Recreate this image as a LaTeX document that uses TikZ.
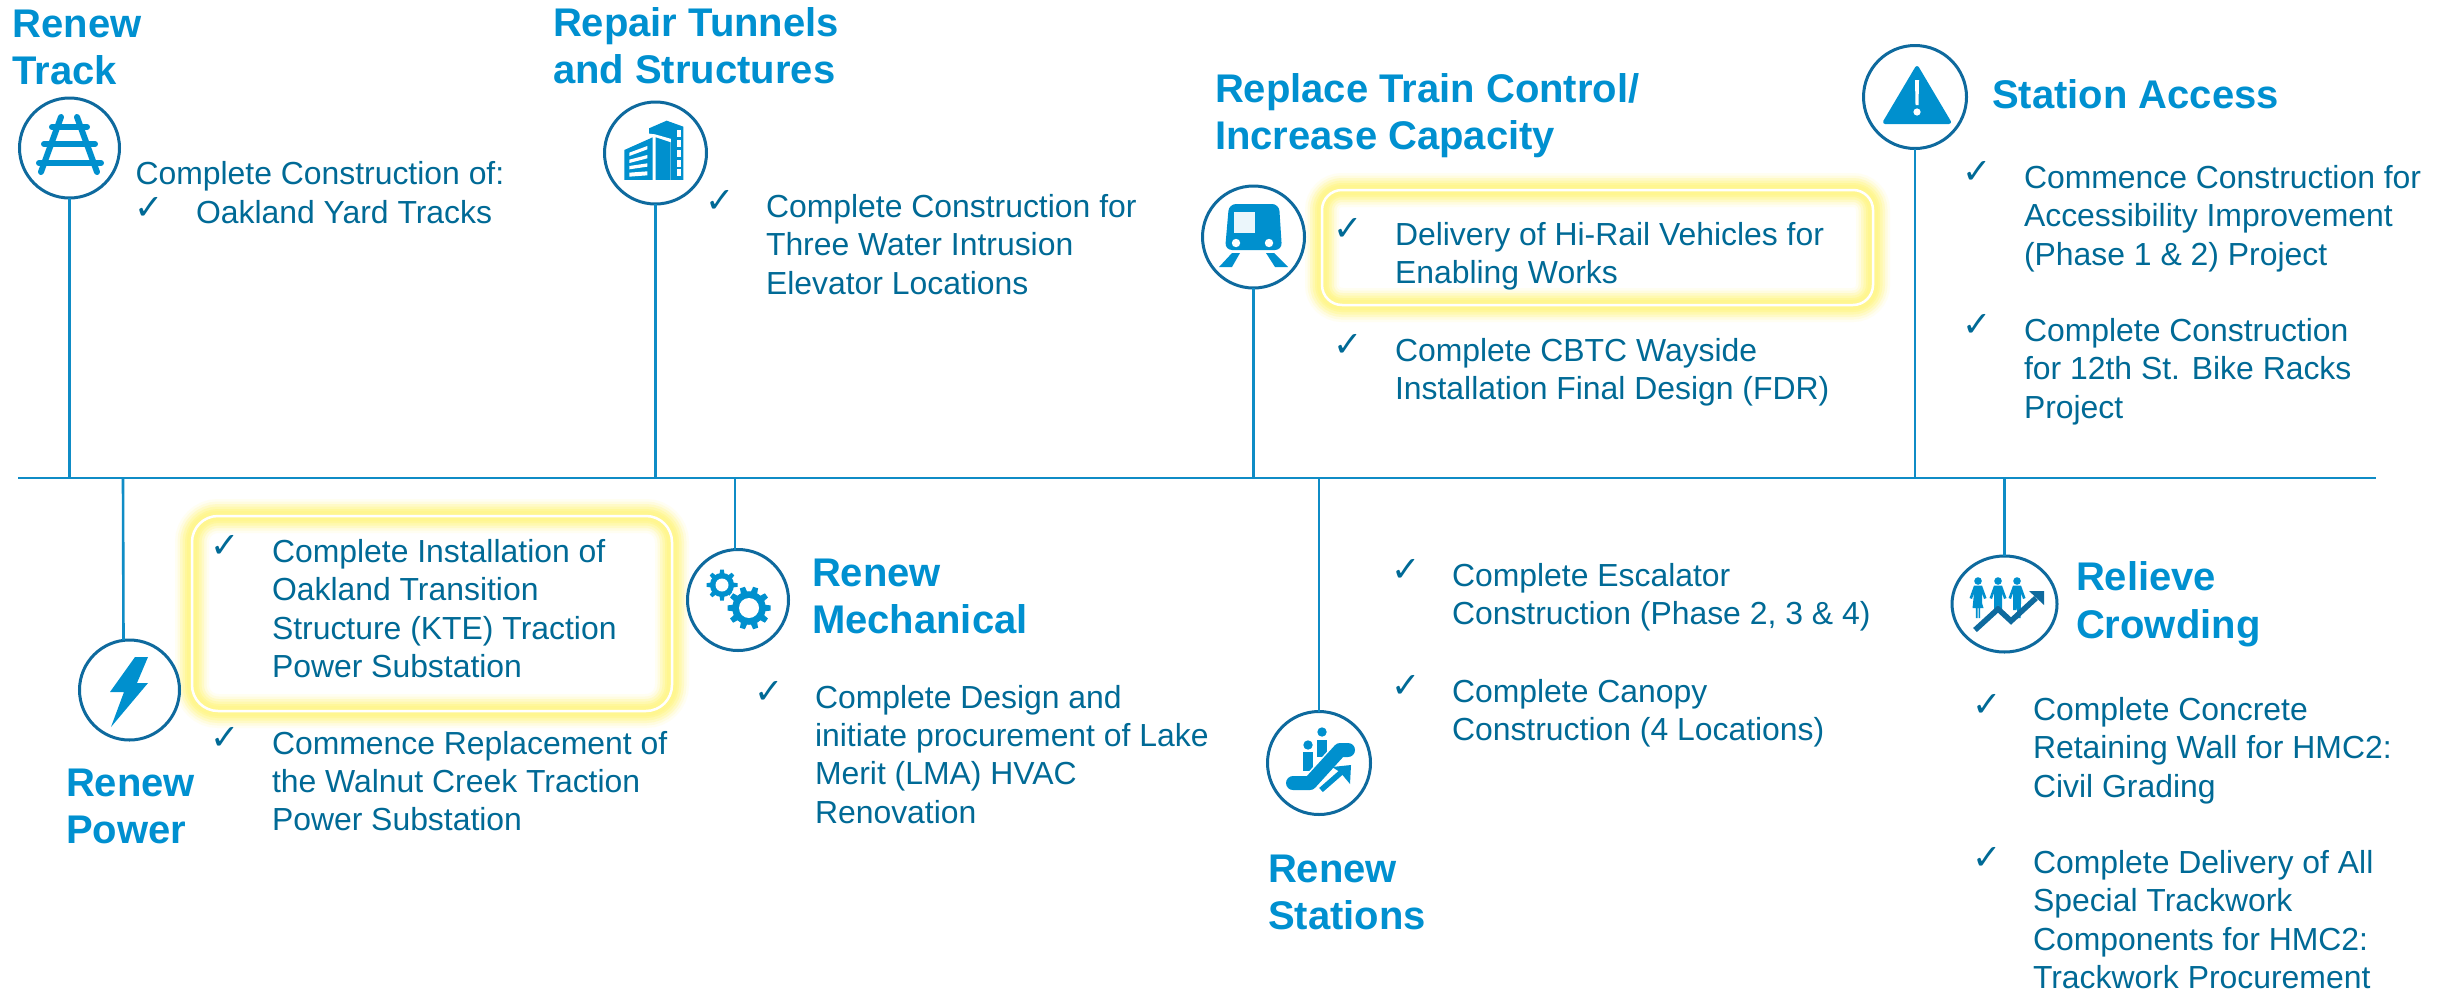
\documentclass[tikz,border=0pt]{standalone}
\usepackage{fontspec}
\usetikzlibrary{shapes.geometric}
\setmainfont{Liberation Sans}
\newfontfamily\checkfont{DejaVu Sans}
\definecolor{headblue}{HTML}{0090D0}
\definecolor{bodyteal}{HTML}{006A96}
\definecolor{lineblue}{HTML}{0F8CC6}
\definecolor{ringblue}{HTML}{0E6A9E}
\definecolor{iconblue}{HTML}{0090CE}
\definecolor{glowyellow}{HTML}{FFF690}
\newcommand\textlines[1]{\vtop{\halign{##\hfil\cr #1\crcr}}}
\newcommand\gearicon[5]{%
  \begin{scope}[shift={(#1,#2)}]
    \fill[iconblue] (0,0) circle (#3*0.78);
    \foreach \a in {1,...,#5}{
      \fill[iconblue,rotate=\a*360/#5] (#3*0.6,-#3*0.17) -- (#3,-#3*0.12) -- (#3,#3*0.12) -- (#3*0.6,#3*0.17) -- cycle;
    }
    \fill[white] (0,0) circle (#4);
  \end{scope}}
\newcommand\glowbox[5]{%
  \foreach \w/\p in {34/12,29/28,24/50,19/72,14/90,10/100}{
    \draw[line width=\w pt,color=glowyellow!\p!white,rounded corners=#5pt] (#1,#2) rectangle (#3,#4);
  }
  \draw[line width=2.5pt,white,rounded corners=#5pt] (#1,#2) rectangle (#3,#4);}
\newcommand\personicon[3]{%
  \begin{scope}[shift={(#1,#2)}]
    \fill[iconblue] (0,-10) circle (3.8);
    \fill[iconblue] (-4,-5.5) -- (4,-5.5) -- (8.5,7) -- (6,8) -- (4,2) -- #3;
  \end{scope}}
\tikzset{
  x=1pt,y=-1pt,
  heading/.style={anchor=base west,inner sep=0pt,outer sep=0pt,text=headblue,font=\fontsize{40}{47.5}\selectfont\bfseries},
  bodytext/.style={anchor=base west,inner sep=0pt,outer sep=0pt,text=bodyteal,font=\fontsize{31.9}{38.4}\selectfont},
  tick/.style={anchor=base west,inner sep=0pt,outer sep=0pt,text=bodyteal,font=\fontsize{35}{38}\checkfont},
  ring/.style={circle,draw=ringblue,line width=3pt,fill=white,inner sep=0pt,outer sep=0pt,minimum size=#1 pt},
  tubering/.style={ellipse,draw=ringblue,line width=3pt,fill=white,inner sep=0pt,outer sep=0pt,minimum width=105pt,minimum height=96pt},
  stem/.style={draw=lineblue,line width=2.6pt},
}
\begin{document}
\begin{tikzpicture}
\useasboundingbox (0,0) rectangle (2448,991);
\fill[white] (0,0) rectangle (2448,991);

% timeline
\coordinate (tlL) at (18,478);
\coordinate (tlR) at (2376,478);

% highlight glows
\glowbox{1322}{190}{1873}{305}{20}
\glowbox{192}{516}{672}{711}{26}

% circles
\node[ring=100] (cTrack) at (69.5,148) {};
\node[ring=102] (cTunnel) at (655.5,153) {};
\node[ring=102] (cTrain) at (1253.5,237) {};
\node[ring=103] (cAccess) at (1915,97) {};
\node[ring=100] (cPower) at (129.5,690) {};
\node[ring=101] (cMech) at (738,600) {};
\node[ring=103] (cStation) at (1319,763) {};
\node[tubering] (cCrowd) at (2004.5,604) {};

% connectors
\draw[stem] (tlL) -- (tlR);
\draw[stem] (cTrack.south) -- (cTrack.south |- tlL);
\draw[stem] (cTunnel.south) -- (cTunnel.south |- tlL);
\draw[stem] (cTrain.south) -- (cTrain.south |- tlL);
\draw[stem] (cAccess.south) -- (cAccess.south |- tlL);
\draw[stem] (cPower.north) ++(-6,0) -- (123,478);
\draw[stem] (cMech.north) ++(-3,0) -- (735,478);
\draw[stem] (cStation.north) -- (cStation.north |- tlL);
\draw[stem] (cCrowd.north) -- (cCrowd.north |- tlL);

% track icon
\begin{scope}[line width=6pt,line cap=round]
  \draw[iconblue] (61,117) -- (41,172);
  \draw[iconblue] (77,117) -- (97,172);
  \draw[iconblue] (52,127) -- (87,127);
  \draw[iconblue] (44,144) -- (95,144);
  \draw[iconblue] (39,163) -- (101,163);
\end{scope}

% building icon
\begin{scope}[shift={(600,100)},x=0.3333pt,y=-0.3333pt]
  \fill[iconblue] (147,100) -- (147,85) -- (200,62) -- (250,80) -- (250,240) -- (147,240) -- cycle;
  \fill[white] (140,100) -- (165,103) -- (218,118) -- (218,245) -- (140,245) -- cycle;
  \fill[iconblue] (73,150) -- (158,112) -- (158,240) -- (73,240) -- cycle;
  \fill[iconblue] (167,112) -- (212,127) -- (212,240) -- (167,240) -- cycle;
  \fill[iconblue] (212,110) -- (232,110) -- (232,240) -- (212,240) -- cycle;
  \foreach \a/\b in {90/112,120/142,150/172,180/202,208/228}{
    \fill[white] (232,\a) rectangle (243,\b);
  }
  \fill[white] (88,158) -- (142,138) -- (142,148) -- (88,168) -- cycle;
  \fill[white] (88,179) -- (142,165) -- (142,175) -- (88,189) -- cycle;
  \fill[white] (88,198) -- (142,190) -- (142,200) -- (88,208) -- cycle;
  \fill[white] (88,218) -- (142,214) -- (142,226) -- (88,230) -- cycle;
\end{scope}

% train icon
\fill[iconblue,rounded corners=7pt] (1229,204) -- (1279,204) -- (1282,250) -- (1225,250) -- cycle;
\fill[white!92!iconblue] (1234,212) rectangle (1255,233);
\fill[white] (1236,243) circle (4.2);
\fill[white] (1269,243) circle (4.2);
\fill[iconblue] (1232,253) -- (1240,253) -- (1232,267) -- (1219,267) -- cycle;
\fill[iconblue] (1266,253) -- (1274,253) -- (1288,267) -- (1275,267) -- cycle;

% warning icon
\fill[iconblue,draw=iconblue,line width=4pt,line join=round] (1917,68) -- (1949,122) -- (1885,122) -- cycle;
\fill[white] (1915,80) -- (1919,80) -- (1918.5,105) -- (1915.5,105) -- cycle;
\fill[white] (1917,112) circle (3.6);

% lightning icon
\fill[iconblue] (135,657) -- (148,657) -- (137,683) -- (148,683) -- (111,727) -- (124,692) -- (110,692) -- cycle;

% gears icon
\gearicon{722}{585}{15.5}{6.5}{8}
\fill[white] (749,608) circle (23);
\gearicon{749}{608}{21.5}{10}{10}

% escalator icon
\fill[iconblue] (1322,732) circle (4.7);
\fill[iconblue] (1308,745) circle (4.7);
\fill[iconblue] (1303,752) rectangle (1313,771);
\fill[iconblue] (1317,740) rectangle (1327,757);
\draw[white,line width=17pt,line cap=round,line join=round] (1293,783) -- (1310,783) -- (1340,750);
\draw[iconblue,line width=14pt,line cap=round,line join=round] (1293,783) -- (1310,783) -- (1340,750) -- (1348,750);
\draw[iconblue,line width=5.5pt] (1321,790) -- (1345,769);
\fill[iconblue] (1332,767) -- (1351,765) -- (1350,784) -- (1345,778) -- (1340,772) -- cycle;

% crowding icon
\personicon{1978}{591}{(4,12) -- (5.5,17) -- (2.2,17) -- (2.2,27) -- (0.5,27) -- (0.5,17) -- (-0.5,17) -- (-0.5,27) -- (-2.2,27) -- (-2.2,17) -- (-5.5,17) -- (-4,2) -- (-6,8) -- (-8.5,7) -- cycle}
\personicon{1998}{591}{(4,12) -- (4,19) -- (1,19) -- (0,13) -- (-1,19) -- (-4,19) -- (-4,2) -- (-6,8) -- (-8.5,7) -- cycle}
\personicon{2017}{591}{(4,12) -- (3.5,27) -- (0.5,27) -- (0,16) -- (-0.5,19) -- (-4,19) -- (-4,2) -- (-6,8) -- (-8.5,7) -- cycle}
\draw[ringblue,line width=5.5pt,line join=miter] (1975,630) -- (1998,609) -- (2011,621) -- (2036,598);
\fill[ringblue] (2029,591) -- (2044,591) -- (2044,605) -- cycle;

% headings
\node[heading] (hTrack) at (12.5,37) {\textlines{Renew\cr Track}};
\node[heading] (hTunnel) at (553,36) {\textlines{Repair Tunnels\cr and Structures}};
\node[heading] (hTrain) at (1215,102) {\textlines{Replace Train Control/\cr Increase Capacity}};
\node[heading] (hAccess) at (1992,108) {Station Access};
\node[heading] (hPower) at (66,796) {\textlines{Renew\cr Power}};
\node[heading] (hMech) at (812,586) {\textlines{Renew\cr Mechanical}};
\node[heading] (hStation) at (1268,882) {\textlines{Renew\cr Stations}};
\node[heading] (hCrowd) at (2076,590.5) {\textlines{Relieve\cr Crowding}};

% body text
\node[bodytext] (tTrack0) at (135.5,184.5) {Complete Construction of:};
\node[tick] (kTrack1) at (134,219) {✓};
\node[bodytext] (tTrack1) at (196,223.5) {Oakland Yard Tracks};

\node[tick] (kTunnel1) at (705,212) {✓};
\node[bodytext] (tTunnel1) at (766,217.5) {\textlines{Complete Construction for\cr Three Water Intrusion\cr Elevator Locations}};

\node[tick] (kTrain1) at (1333,240) {✓};
\node[bodytext] (tTrain1) at (1395,245.5) {\textlines{Delivery of Hi-Rail Vehicles for\cr Enabling Works}};
\node[tick] (kTrain2) at (1333,356) {✓};
\node[bodytext] (tTrain2) at (1395,361) {\textlines{Complete CBTC Wayside\cr Installation Final Design (FDR)}};

\node[tick] (kAccess1) at (1962,183) {✓};
\node[bodytext] (tAccess1) at (2024,188.5) {\textlines{Commence Construction for\cr Accessibility Improvement\cr (Phase 1 \& 2) Project}};
\node[tick] (kAccess2) at (1962,336) {✓};
\node[bodytext] (tAccess2) at (2024,341.5) {\textlines{Complete Construction\cr for 12th St. Bike Racks\cr Project}};

\node[tick] (kPower1) at (210,557) {✓};
\node[bodytext] (tPower1) at (272,562.5) {\textlines{Complete Installation of\cr Oakland Transition\cr Structure (KTE) Traction\cr Power Substation}};
\node[tick] (kPower2) at (210,749) {✓};
\node[bodytext] (tPower2) at (272,754) {\textlines{Commence Replacement of\cr the Walnut Creek Traction\cr Power Substation}};

\node[tick] (kMech1) at (754,703) {✓};
\node[bodytext] (tMech1) at (815,708) {\textlines{Complete Design and\cr initiate procurement of Lake\cr Merit (LMA) HVAC\cr Renovation}};

\node[tick] (kStation1) at (1391,581) {✓};
\node[bodytext] (tStation1) at (1452,586) {\textlines{Complete Escalator\cr Construction (Phase 2, 3 \& 4)}};
\node[tick] (kStation2) at (1391,697) {✓};
\node[bodytext] (tStation2) at (1452,702) {\textlines{Complete Canopy\cr Construction (4 Locations)}};

\node[tick] (kCrowd1) at (1972,716) {✓};
\node[bodytext] (tCrowd1) at (2033,720.5) {\textlines{Complete Concrete\cr Retaining Wall for HMC2:\cr Civil Grading}};
\node[tick] (kCrowd2) at (1972,869) {✓};
\node[bodytext] (tCrowd2) at (2033,873.5) {\textlines{Complete Delivery of All\cr Special Trackwork\cr Components for HMC2:\cr Trackwork Procurement}};
\end{tikzpicture}
\end{document}
